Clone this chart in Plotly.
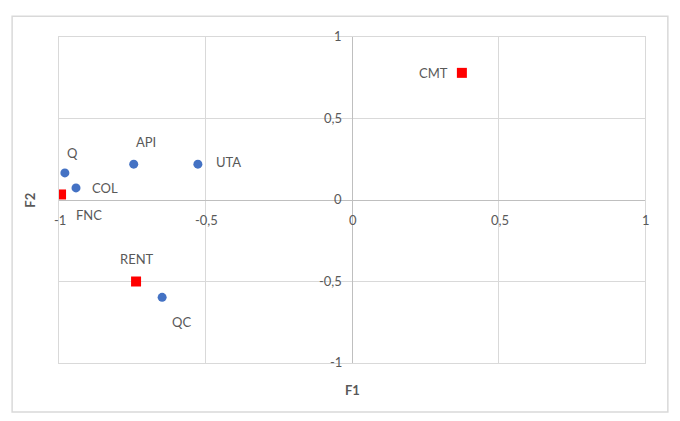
import plotly.graph_objects as go

# ---- data ----
blue_names = ["Q", "API", "UTA", "COL", "QC"]
blue_f1 = [-0.980, -0.745, -0.526, -0.942, -0.648]
blue_f2 = [0.166, 0.220, 0.220, 0.074, -0.597]

red_names = ["FNC", "RENT", "CMT"]
red_f1 = [-0.993, -0.737, 0.375]
red_f2 = [0.034, -0.500, 0.780]

tick_vals = [-1, -0.5, 0, 0.5, 1]
tick_text = ["-1", "-0,5", "0", "0,5", "1"]

x_title = "F1"
y_title = "F2"

# ---- styles ----
FONT = "Lato, 'Open Sans', sans-serif"
TXT = "#595959"
label_offsets = {  # pixel offsets of labels from their points
    "Q": (8, 20), "API": (12, 22), "UTA": (31, 2), "COL": (29, 0),
    "QC": (19, -25), "FNC": (28, -21), "RENT": (1, 23), "CMT": (-28, 0),
}

fig = go.Figure()
fig.add_trace(go.Scatter(x=blue_f1, y=blue_f2, mode="markers",
                         marker=dict(symbol="circle", size=9, color="#4472C4"),
                         hoverinfo="skip", showlegend=False))
fig.add_trace(go.Scatter(x=red_f1, y=red_f2, mode="markers",
                         marker=dict(symbol="square", size=10, color="#FF0000"),
                         hoverinfo="skip", showlegend=False))

annotations = []
for names, xs, ys in ((blue_names, blue_f1, blue_f2), (red_names, red_f1, red_f2)):
    for n, xv, yv in zip(names, xs, ys):
        dx, dy = label_offsets[n]
        annotations.append(dict(x=xv, y=yv, xref="x", yref="y", text=n,
                                showarrow=False, xshift=dx, yshift=dy,
                                font=dict(family=FONT, size=13, color=TXT)))

# tick labels placed beside the crossing axes
for v, t in zip(tick_vals, tick_text):
    annotations.append(dict(x=v, y=0, xref="x", yref="y", text=t, showarrow=False,
                            yshift=-20, xshift=1,
                            font=dict(family=FONT, size=13, color=TXT)))
    annotations.append(dict(x=0, y=v, xref="x", yref="y", text=t, showarrow=False,
                            xanchor="right", xshift=-8, yshift=1,
                            font=dict(family=FONT, size=13, color=TXT)))

annotations.append(dict(x=0.5, y=-0.083, xref="paper", yref="paper", text="<b>" + x_title + "</b>",
                        xanchor="center", yanchor="middle",
                        showarrow=False, font=dict(family=FONT, size=13, color=TXT)))
annotations.append(dict(x=-0.05, y=0.5, xref="paper", yref="paper", text="<b>" + y_title + "</b>",
                        xanchor="center", yanchor="middle",
                        showarrow=False, textangle=-90,
                        font=dict(family=FONT, size=13, color=TXT)))

axis_common = dict(range=[-1, 1], tickvals=tick_vals, showticklabels=False,
                   showgrid=True, gridcolor="#d9d9d9", gridwidth=1,
                   zeroline=True, zerolinecolor="#bfbfbf", zerolinewidth=1,
                   showline=True, linecolor="#d9d9d9", linewidth=1, mirror=True,
                   ticks="", fixedrange=True)

fig.update_layout(
    width=664, height=405,
    margin=dict(l=51, r=27, t=29, b=50),
    paper_bgcolor="white", plot_bgcolor="white",
    xaxis=axis_common, yaxis=axis_common,
    annotations=annotations,
    shapes=[dict(type="rect", xref="paper", yref="paper",
                 x0=-0.080, x1=1.039, y0=-0.150, y1=1.064,
                 line=dict(color="#d9d9d9", width=1.5), layer="below")],
)

fig.write_html("out.html")
